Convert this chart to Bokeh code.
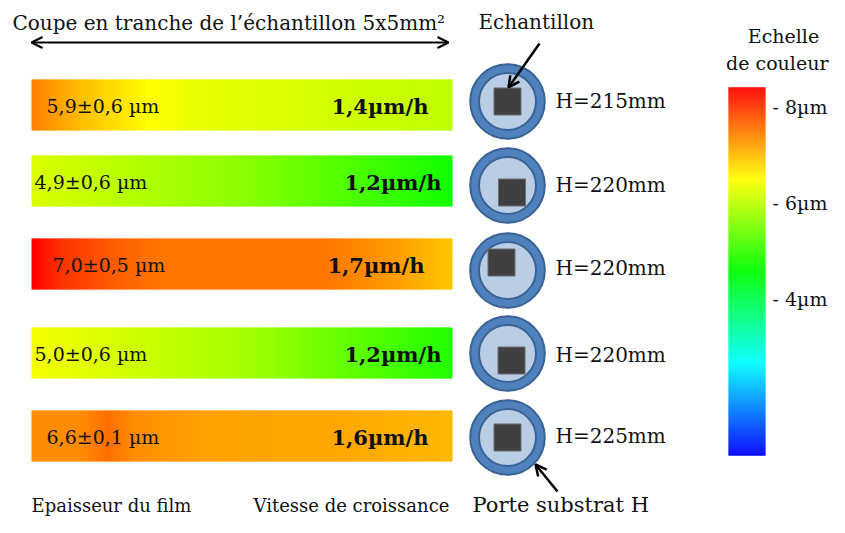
import colorsys
import numpy as np
from bokeh.plotting import figure
from bokeh.models import Range1d, Arrow, OpenHead, LinearColorMapper, ColumnDataSource
from bokeh.embed import file_html
from bokeh.resources import INLINE
from bokeh.core.properties import value

# ---------------- data ----------------
heights_mm = [215, 220, 220, 220, 225]
thickness_um = [5.9, 4.9, 7.0, 5.0, 6.6]
thickness_err_um = [0.6, 0.6, 0.5, 0.6, 0.1]
growth_rate_um_h = [1.4, 1.2, 1.7, 1.2, 1.6]
# thickness profile along the cross-section (fraction of width -> µm)
profile_pos = [
    [0, 0.12, 0.28, 0.40, 1.0],
    [0, 0.5, 1.0],
    [0, 0.07, 0.19, 0.30, 0.70, 0.88, 1.0],
    [0, 0.5, 1.0],
    [0, 0.12, 0.18, 0.24, 0.40, 0.70, 1.0],
]
profile_um = [
    [7.43, 6.95, 6.47, 6.30, 5.98],
    [6.20, 5.60, 4.70],
    [8.39, 8.00, 7.70, 7.50, 7.50, 7.18, 6.88],
    [6.40, 5.80, 4.80],
    [7.35, 7.35, 7.56, 7.34, 7.18, 7.15, 7.00],
]
scale_ticks_um = [8, 6, 4]
scale_low_um, scale_high_um = 0.73, 8.39

# ---------------- layout ----------------
FONT = value("DejaVu Serif")
bar_x0, bar_x1 = 31, 452
bar_top = [79, 155, 238, 327, 410]
bar_h = 51
circ_x = 507
circ_y = [101, 185, 270, 353, 437]
sq_dx = [0, 4.5, -6, 4, 0]
sq_dy = [0, 7, -8, 7, 0]
thick_lbl_x = [46, 34, 52, 34, 46]
rate_lbl_x = [428, 441, 424, 441, 428]
h_lbl_y = [100, 184, 267, 354, 435]
cb_x0, cb_x1 = 728, 765
cb_y_of_8 = 106
cb_px_per_um = 48.0

NPAL = 1024
palette = []
for i in range(NPAL):
    h = (240 - 240 * i / (NPAL - 1)) / 360.0
    r, g, b = colorsys.hsv_to_rgb(h, 1, 1)
    palette.append("#%02x%02x%02x" % (int(round(r * 255)), int(round(g * 255)), int(round(b * 255))))
mapper = LinearColorMapper(palette=palette, low=scale_low_um, high=scale_high_um)

p = figure(width=829, height=517, output_backend="svg", toolbar_location=None,
           x_range=Range1d(0, 829), y_range=Range1d(517, 0),
           x_axis_location=None, y_axis_location=None, min_border=0)
p.grid.visible = False
p.outline_line_color = None
p.background_fill_color = "white"

# gradient bars (film cross-sections coloured by local thickness)
L, R, T, B, V = [], [], [], [], []
xs = np.arange(bar_x0, bar_x1, 1.0)
for i in range(5):
    frac = (xs - bar_x0) / (bar_x1 - bar_x0)
    tv = np.interp(frac, profile_pos[i], profile_um[i])
    L += list(xs)
    R += list(np.minimum(xs + 1.6, bar_x1))
    T += [bar_top[i]] * len(xs)
    B += [bar_top[i] + bar_h] * len(xs)
    V += list(tv)
src = ColumnDataSource(dict(left=L, right=R, top=T, bottom=B, v=V))
p.quad(left="left", right="right", top="top", bottom="bottom", source=src,
       fill_color={"field": "v", "transform": mapper}, line_color=None)

# colour scale bar
ys = np.arange(cb_y_of_8 - (scale_high_um - 8) * cb_px_per_um,
               cb_y_of_8 + (8 - scale_low_um) * cb_px_per_um, 1.0)
cb_src = ColumnDataSource(dict(top=ys - 0.5, bottom=ys + 1.0,
                               v=8 - (ys + 0.5 - cb_y_of_8) / cb_px_per_um))
p.quad(left=cb_x0, right=cb_x1, top="top", bottom="bottom", source=cb_src,
       fill_color={"field": "v", "transform": mapper}, line_color=None)
p.text(x=[cb_x1 + 7] * 3, y=[cb_y_of_8 + (8 - t) * cb_px_per_um for t in scale_ticks_um],
       text=["- %dµm" % t for t in scale_ticks_um], text_font=FONT, text_font_size="19px",
       text_align="left", text_baseline="middle", text_color="#111111")
p.text(x=[783], y=[35], text=["Echelle"], text_font=FONT,
       text_font_size="19px", text_align="center", text_baseline="middle", text_color="#111111")
p.text(x=[828], y=[62], text=["de couleur"], text_font=FONT,
       text_font_size="19px", text_align="right", text_baseline="middle", text_color="#111111")

# bar labels
p.text(x=thick_lbl_x, y=[t + bar_h / 2 + 1 for t in bar_top],
       text=[("%.1f" % t).replace(".", ",") + "±" + ("%.1f" % e).replace(".", ",") + " µm"
             for t, e in zip(thickness_um, thickness_err_um)],
       text_font=FONT, text_font_size="19px", text_align="left", text_baseline="middle",
       text_color="#111111")
p.text(x=rate_lbl_x, y=[t + bar_h / 2 + 1 for t in bar_top],
       text=[("%.1f" % r).replace(".", ",") + "µm/h" for r in growth_rate_um_h],
       text_font=FONT, text_font_size="21px", text_font_style="bold", text_align="right",
       text_baseline="middle", text_color="#111111")

# sample holders
p.circle(x=[circ_x] * 5, y=circ_y, radius=37.3, fill_color="#4f81bd",
         line_color="#3a6294", line_width=2)
p.circle(x=[circ_x] * 5, y=circ_y, radius=28.5, fill_color="#b9cde5",
         line_color="#3a6294", line_width=2)
p.rect(x=[circ_x + d for d in sq_dx], y=[c + d for c, d in zip(circ_y, sq_dy)],
       width=27, height=27, fill_color="#404040", line_color="#6f6f6f", line_width=1)
p.text(x=[555] * 5, y=h_lbl_y, text=["H=%dmm" % h for h in heights_mm], text_font=FONT,
       text_font_size="20px", text_align="left", text_baseline="middle", text_color="#111111")

# top title + double arrow
p.text(x=[12], y=[22], text=["Coupe en tranche de l’échantillon 5x5mm²"], text_font=FONT,
       text_font_size="20px", text_align="left", text_baseline="middle", text_color="#111111")
p.add_layout(Arrow(start=OpenHead(size=11, line_width=2), end=OpenHead(size=11, line_width=2),
                   x_start=31, y_start=42, x_end=448, y_end=42, line_width=2))

p.text(x=[478], y=[21], text=["Echantillon"], text_font=FONT, text_font_size="20px",
       text_align="left", text_baseline="middle", text_color="#111111")
p.add_layout(Arrow(end=OpenHead(size=11, line_width=2.5), x_start=539, y_start=43,
                   x_end=508, y_end=87, line_width=2.5))
p.add_layout(Arrow(end=OpenHead(size=11, line_width=2.5), x_start=557, y_start=491,
                   x_end=535, y_end=464, line_width=2.5))

# bottom labels (raised slightly to stay inside the canvas)
p.text(x=[31, 253], y=[505, 505], text=["Epaisseur du film", "Vitesse de croissance"],
       text_font=FONT, text_font_size="18px", text_align="left", text_baseline="middle",
       text_color="#111111")
p.text(x=[472], y=[504], text=["Porte substrat H"], text_font=FONT, text_font_size="21px",
       text_align="left", text_baseline="middle", text_color="#111111")

open("out.html", "w").write(file_html(p, INLINE))
